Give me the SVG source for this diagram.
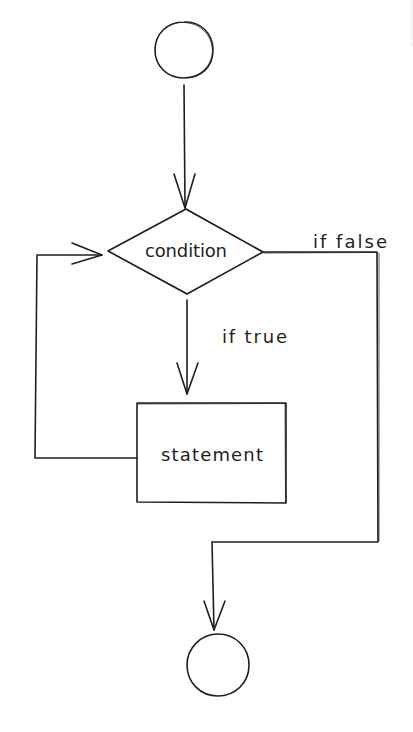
<svg xmlns="http://www.w3.org/2000/svg" width="413" height="732" viewBox="0 0 413 732">
<style>
.s{fill:none;stroke:#1e1e1e;stroke-width:1.6;stroke-linecap:round;stroke-linejoin:round}
.s2{fill:none;stroke:#1e1e1e;stroke-width:0.9;stroke-linecap:round;opacity:0.8}
.t{font-family:"DejaVu Sans","Liberation Sans",sans-serif;font-size:18px;fill:#1e1e1e}
</style>
<rect width="413" height="732" fill="#ffffff"/>
<line x1="412" y1="0" x2="412" y2="47" stroke="#e6e6e6" stroke-width="1"/>
<g id="start">
<path class="s" d="M184 22 C200 21 213 33 213 50 C213 67 201 78 184 78 C167 78 155 66 155 50 C155 34 167 22 184 22 Z"/>
<path class="s2" d="M182 22.5 C199 22 212 34 212.5 51 C212 66 200 77.5 185 77.5"/>
</g>
<g id="condition">
<path class="s" d="M186 209 L263 252 L187 294 L108 251 Z"/>
<path class="s2" d="M187 210 L262 251.5 M186 293 L109 251.5"/>
<text class="t" x="186" y="257" text-anchor="middle" textLength="82">condition</text>
</g>
<g id="statement">
<path class="s" d="M137 403 L286 403 L286 503 L137 502 Z"/>
<path class="s2" d="M138 404 L285 403.5 M285 404 L285.5 502"/>
<text class="t" x="212" y="461" text-anchor="middle" textLength="102">statement</text>
</g>
<g id="end">
<path class="s" d="M218 634 C235 634 249 647 249 665 C249 683 235 696 218 696 C200 696 187 682 187 665 C187 648 201 634 218 634 Z"/>
</g>
<g id="connectors">
<path class="s" d="M184 85 L185 208"/>
<path class="s" d="M174 174 L185 208 L195 174"/>
<path class="s" d="M187 300 L187 394"/>
<path class="s" d="M177 363 L187 394 L198 363"/>
<path class="s" d="M137 458 L35 458 L37 255 L102 255"/>
<path class="s" d="M72 243 L102 255 L72 264"/>
<path class="s" d="M263 252 L377 252 L378 542 L212 542 L214 630"/>
<path class="s2" d="M264 253 L376 252.5 M379 253 L379 541"/>
<path class="s" d="M204 601 L214 630 L225 601"/>
<text class="t" x="313" y="248" textLength="74">if false</text>
<text class="t" x="222" y="343" textLength="65">if true</text>
</g>
</svg>
